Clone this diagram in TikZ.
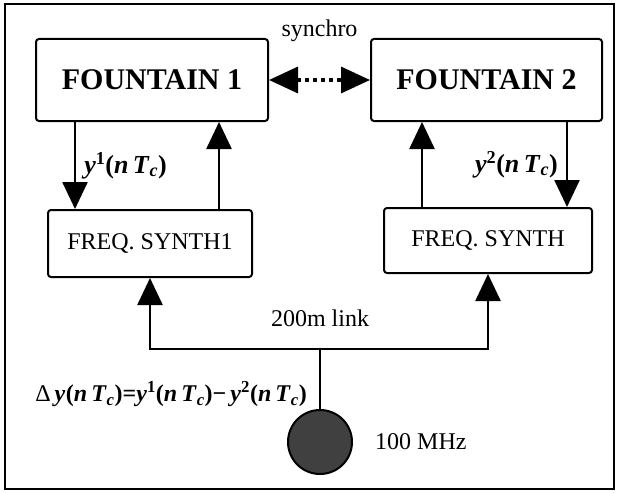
\documentclass[tikz,border=0pt]{standalone}
\usepackage{fontspec}
\setmainfont{Liberation Serif}
\usetikzlibrary{positioning,arrows.meta}
\tikzset{auto,
box/.style={draw,rounded corners=3pt,line width=2pt,inner sep=0pt},
big/.style={font=\fontsize{30}{34}\selectfont\bfseries},
sml/.style={font=\fontsize{24}{28}\selectfont,inner sep=0pt},
el/.style={font=\fontsize{26}{30}\selectfont\bfseries,inner sep=8pt},
eqn/.style={font=\fontsize{24}{28}\selectfont\bfseries,inner sep=12pt},
sig/.style={line width=2.5pt,-{Triangle[length=27pt,width=25pt]}},
wire/.style={line width=2.5pt},
syncline/.style={line width=3.5pt,dash pattern=on 3.5pt off 4.5pt,
  {Triangle[length=29pt,width=26pt]}-{Triangle[length=29pt,width=26pt]}},
}
\newcommand{\ynt}[1]{\textit{y}\textsuperscript{#1}(\textit{n\,T}\textsubscript{\textit{c}})}

\begin{document}
\begin{tikzpicture}[x=1pt,y=-1pt]
\useasboundingbox (0,0) rectangle (617,492);
\draw[line width=1.5pt] (5,4) rectangle (614,489);

\node[box,big,minimum width=232pt,minimum height=82pt] (f1) at (152,80) {FOUNTAIN 1};
\node[box,big,minimum width=231pt,minimum height=82pt] (f2) at (486.5,80) {FOUNTAIN 2};
\node[box,sml,minimum width=204pt,minimum height=67pt] (s1) at (150,243.5) {FREQ. SYNTH1};
\node[box,sml,minimum width=208pt,minimum height=65pt] (s2) at (488,240.5) {FREQ. SYNTH};
\node[circle,draw,line width=2pt,fill=black!75,minimum size=64pt,inner sep=0pt] (osc) at (320,442) {};
\node[sml,right=22pt of osc] (mhz) {100 MHz};
\coordinate (junc) at (320,349);
\node[sml,above=22pt of junc] (link) {200m link};

\draw[syncline] (f1) -- node[sml,above=37pt] {synchro} (f2);

\path[sig]
([xshift=40pt]f1.south west) edge node[el] {\ynt{1}} ([xshift=40pt]f1.south west |- s1.north)
([xshift=-50pt]f1.south east |- s1.north) edge ([xshift=-50pt]f1.south east)
([xshift=52pt]f2.south west |- s2.north) edge ([xshift=52pt]f2.south west)
([xshift=-36pt]f2.south east) edge node[el,swap] {\ynt{2}} ([xshift=-36pt]f2.south east |- s2.north)
;

\draw[wire] (osc.north) -- node[eqn,pos=0.25] {{\mdseries Δ}\,\ynt{}=\ynt{1}−\,\ynt{2}} (junc);
\draw[sig] (junc) -| (s1.south);
\draw[sig] (junc) -| (s2.south);
\end{tikzpicture}
\end{document}
